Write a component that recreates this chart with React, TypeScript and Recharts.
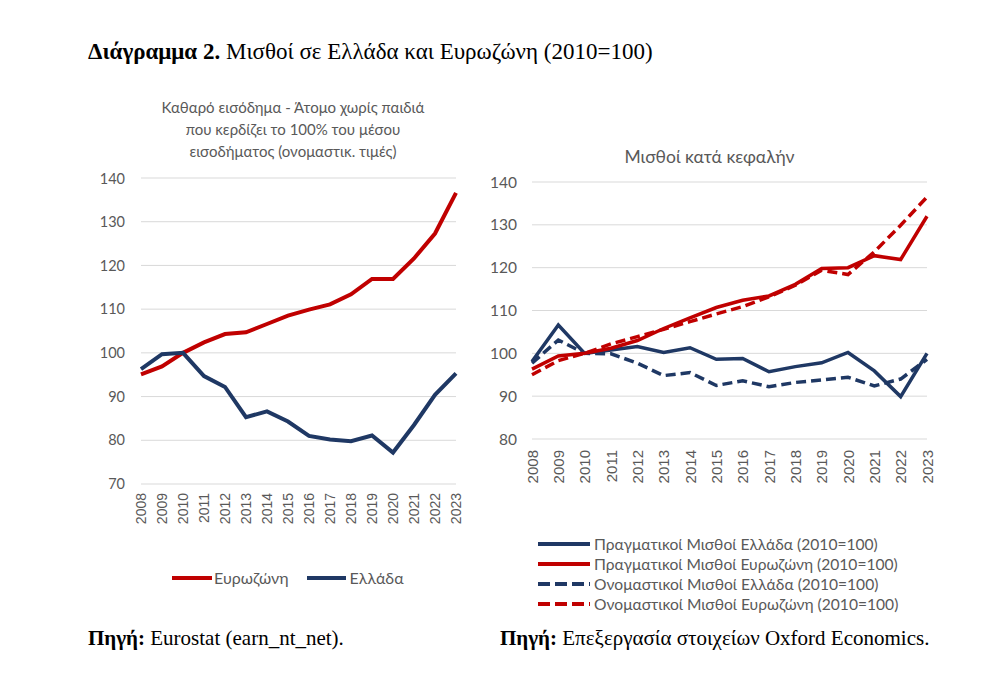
import React from "react";
import { LineChart, Line, XAxis, YAxis, CartesianGrid } from "recharts";

const years = ["2008","2009","2010","2011","2012","2013","2014","2015","2016","2017","2018","2019","2020","2021","2022","2023"];

// Left chart: net income (nominal)
const leftEurozone = [95.1, 96.9, 100.0, 102.4, 104.3, 104.7, 106.6, 108.5, 109.9, 111.1, 113.4, 116.9, 116.9, 121.6, 127.3, 136.6];
const leftGreece = [96.3, 99.7, 100.0, 94.7, 92.2, 85.3, 86.6, 84.3, 81.0, 80.2, 79.8, 81.1, 77.2, 83.5, 90.4, 95.3];
const leftTicks = [70, 80, 90, 100, 110, 120, 130, 140];

// Right chart: wages per head
const realGreece = [98.1, 106.6, 100.0, 100.8, 101.6, 100.2, 101.3, 98.6, 98.8, 95.7, 96.9, 97.8, 100.2, 95.9, 89.9, 100.0];
const realEurozone = [96.3, 99.4, 100.0, 101.2, 103.0, 105.8, 108.3, 110.7, 112.4, 113.4, 116.1, 119.8, 120.0, 122.8, 121.9, 132.0];
const nomGreece = [97.7, 103.1, 100.0, 99.9, 97.7, 94.8, 95.5, 92.5, 93.6, 92.2, 93.2, 93.8, 94.4, 92.4, 94.0, 98.6];
const nomEurozone = [95.0, 98.3, 100.0, 102.2, 103.9, 105.6, 107.4, 109.2, 110.9, 113.2, 115.9, 119.4, 118.4, 123.7, 129.9, 136.5];
const rightTicks = [80, 90, 100, 110, 120, 130, 140];

const leftData = years.map((y, i) => ({ year: y, ez: leftEurozone[i], gr: leftGreece[i] }));
const rightData = years.map((y, i) => ({ year: y, rg: realGreece[i], re: realEurozone[i], ng: nomGreece[i], ne: nomEurozone[i] }));

const RED = "#C00000";
const NAVY = "#1F3864";
const TXT = "#595959";
const SANS = "Lato, 'Noto Sans', sans-serif";
const ARIAL = "'Liberation Sans', Arial, sans-serif";
const SERIF = "'Liberation Serif', 'Times New Roman', serif";

const makeYearTick = (size: number, shift: number) => (props: any) => {
  const { x, y, payload } = props;
  return (
    <text x={x} y={y} transform={`rotate(-90 ${x} ${y})`} textAnchor="end" dominantBaseline="central"
      fill={TXT} fontSize={size} fontFamily={ARIAL} dx={-shift}>
      {payload.value}
    </text>
  );
};
const LeftYearTick = makeYearTick(14, 1);
const RightYearTick = makeYearTick(15, 3);

const LegendLine = ({ color, dashed, width }: { color: string; dashed?: boolean; width: number }) => (
  <svg width={width} height={8} style={{ display: "block" }}>
    <line x1={0} y1={4} x2={width} y2={4} stroke={color} strokeWidth={4} strokeDasharray={dashed ? "12 5" : undefined} />
  </svg>
);

export default function App() {
  return (
    <div style={{ position: "absolute", left: 0, top: 0, width: 1006, height: 688, background: "#fff", fontFamily: SANS }}>
      <div style={{ position: "absolute", left: 88, top: 38, fontFamily: SERIF, fontSize: 23, lineHeight: "28px", color: "#000", whiteSpace: "nowrap" }}>
        <b>Διάγραμμα 2.</b> Μισθοί σε Ελλάδα και Ευρωζώνη (2010=100)
      </div>

      <div style={{ position: "absolute", left: 140, top: 96, width: 306, textAlign: "center", fontSize: 15, lineHeight: "22px", color: TXT }}>
        Καθαρό εισόδημα - Άτομο χωρίς παιδιά<br />που κερδίζει το 100% του μέσου<br />εισοδήματος (ονομαστικ. τιμές)
      </div>

      <div style={{ position: "absolute", left: 512, top: 146, width: 395, textAlign: "center", fontSize: 17.5, lineHeight: "22px", color: TXT }}>
        Μισθοί κατά κεφαλήν
      </div>

      <div style={{ position: "absolute", left: 90, top: 170 }}>
        <LineChart width={380} height={364} data={leftData} margin={{ top: 8, right: 14, left: 0, bottom: 0 }}>
          <CartesianGrid vertical={false} stroke="#D9D9D9" strokeWidth={1} />
          <XAxis dataKey="year" axisLine={false} tickLine={false} interval={0} height={50} tick={<LeftYearTick />} />
          <YAxis domain={[70, 140]} ticks={leftTicks} axisLine={false} tickLine={false} width={51}
            tick={{ fill: TXT, fontSize: 14.5, fontFamily: SANS }} tickMargin={10} />
          <Line dataKey="ez" stroke={RED} strokeWidth={4} dot={false} isAnimationActive={false} />
          <Line dataKey="gr" stroke={NAVY} strokeWidth={4} dot={false} isAnimationActive={false} />
        </LineChart>
      </div>

      <div style={{ position: "absolute", left: 480, top: 170 }}>
        <LineChart width={460} height={324} data={rightData} margin={{ top: 12, right: 13, left: 0, bottom: 0 }}>
          <CartesianGrid vertical={false} stroke="#D9D9D9" strokeWidth={1} />
          <XAxis dataKey="year" axisLine={false} tickLine={false} interval={0} height={55} tick={<RightYearTick />} />
          <YAxis domain={[80, 140]} ticks={rightTicks} axisLine={false} tickLine={false} width={52}
            tick={{ fill: TXT, fontSize: 15.5, fontFamily: SANS }} tickMargin={9} />
          <Line dataKey="ng" stroke={NAVY} strokeWidth={3.5} strokeDasharray="10 5" dot={false} isAnimationActive={false} />
          <Line dataKey="ne" stroke={RED} strokeWidth={3.5} strokeDasharray="10 5" dot={false} isAnimationActive={false} />
          <Line dataKey="rg" stroke={NAVY} strokeWidth={3.5} dot={false} isAnimationActive={false} />
          <Line dataKey="re" stroke={RED} strokeWidth={3.5} dot={false} isAnimationActive={false} />
        </LineChart>
      </div>

      <div style={{ position: "absolute", left: 172, top: 568, display: "flex", alignItems: "center", fontSize: 16, color: TXT, lineHeight: "20px" }}>
        <LegendLine color={RED} width={40} />
        <span style={{ marginLeft: 2 }}>Ευρωζώνη</span>
        <span style={{ width: 18 }} />
        <LegendLine color={NAVY} width={39} />
        <span style={{ marginLeft: 4 }}>Ελλάδα</span>
      </div>

      <div style={{ position: "absolute", left: 538, top: 534, fontSize: 15.6, color: TXT, lineHeight: "20px" }}>
        {[
          { c: NAVY, d: false, t: "Πραγματικοί Μισθοί Ελλάδα (2010=100)" },
          { c: RED, d: false, t: "Πραγματικοί Μισθοί Ευρωζώνη (2010=100)" },
          { c: NAVY, d: true, t: "Ονομαστικοί Μισθοί Ελλάδα (2010=100)" },
          { c: RED, d: true, t: "Ονομαστικοί Μισθοί Ευρωζώνη (2010=100)" },
        ].map((r, i) => (
          <div key={i} style={{ display: "flex", alignItems: "center", whiteSpace: "nowrap" }}>
            <LegendLine color={r.c} dashed={r.d} width={52} />
            <span style={{ marginLeft: 4 }}>{r.t}</span>
          </div>
        ))}
      </div>

      <div style={{ position: "absolute", left: 88, top: 626, fontFamily: SERIF, fontSize: 21, lineHeight: "24px", color: "#000", whiteSpace: "nowrap" }}>
        <b>Πηγή:</b> Eurostat (earn_nt_net).
      </div>
      <div style={{ position: "absolute", left: 500, top: 626, fontFamily: SERIF, fontSize: 21, lineHeight: "24px", color: "#000", whiteSpace: "nowrap" }}>
        <b>Πηγή:</b> Επεξεργασία στοιχείων Oxford Economics.
      </div>
    </div>
  );
}
